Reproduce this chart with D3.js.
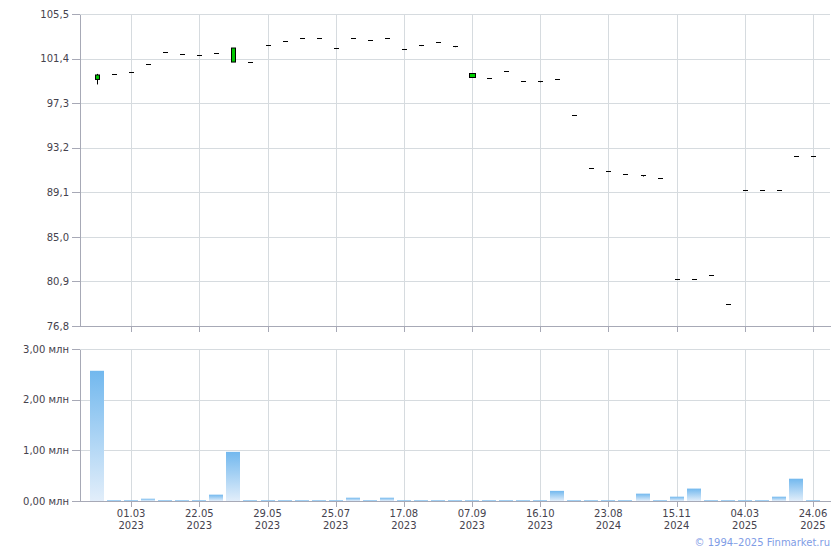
<!DOCTYPE html>
<html><head><meta charset="utf-8">
<script src="https://cdn.jsdelivr.net/npm/d3@7"></script>
<style>body{margin:0;background:#fff}svg{display:block}</style>
</head><body>
<svg id="c" width="840" height="550"></svg>
<script>
// ---- data ----
const tickLabels = [["01.03","2023"],["22.05","2023"],["29.05","2023"],["25.07","2023"],["17.08","2023"],["07.09","2023"],["16.10","2023"],["23.08","2024"],["15.11","2024"],["04.03","2025"],["24.06","2025"]];
const tickStart = 2, tickStep = 4;
const openV  = [99.48, 99.98,100.19,100.93,102.00,101.85,101.73,101.94,101.08,101.11,102.65,103.02,103.29,103.29,102.37,103.29,103.11,103.29,102.28,102.65,102.92,102.56, 99.72, 99.61,100.26, 99.34, 99.34, 99.52, 96.21, 91.33, 91.06, 90.78, 90.65, 90.41, 81.12, 81.12, 81.49, 78.82, 89.31, 89.31, 89.31, 92.44, 92.44];
const closeV = [99.89, 99.98,100.19,100.93,102.00,101.85,101.73,101.94,102.37,101.11,102.65,103.02,103.29,103.29,102.37,103.29,103.11,103.29,102.28,102.65,102.92,102.56, 99.86, 99.61,100.26, 99.34, 99.34, 99.52, 96.21, 91.33, 91.06, 90.78, 90.65, 90.41, 81.12, 81.12, 81.49, 78.82, 89.31, 89.31, 89.31, 92.44, 92.44];
const highV  = [99.99, 99.98,100.19,100.93,102.00,101.85,101.73,101.94,102.37,101.11,102.65,103.02,103.29,103.29,102.37,103.29,103.11,103.29,102.28,102.65,102.92,102.56, 99.86, 99.61,100.26, 99.34, 99.34, 99.52, 96.21, 91.33, 91.06, 90.78, 90.65, 90.41, 81.12, 81.12, 81.49, 78.82, 89.31, 89.31, 89.31, 92.44, 92.44];
const lowV   = [99.02, 99.98,100.19,100.93,102.00,101.85,101.73,101.94,101.08,101.11,102.65,103.02,103.29,103.29,102.37,103.29,103.11,103.29,102.28,102.55,102.92,102.45, 99.72, 99.61,100.26, 99.34, 99.22, 99.52, 96.21, 91.33, 91.06, 90.78, 90.55, 90.41, 81.12, 81.12, 81.49, 78.82, 89.31, 89.31, 89.31, 92.44, 92.44];
const volumeV = [2570000,15000,15000,45000,15000,15000,15000,125000,970000,15000,15000,15000,15000,15000,15000,65000,15000,65000,15000,15000,15000,15000,15000,15000,15000,15000,15000,200000,15000,15000,15000,15000,145000,15000,85000,245000,15000,15000,15000,15000,85000,440000,15000];
const priceTicks = [76.8, 80.9, 85.0, 89.1, 93.2, 97.3, 101.4, 105.5];
const volTicks = [0, 1000000, 2000000, 3000000];

// ---- layout ----
const svg = d3.select("#c");
const L = 80, R = 830;
const pTop = 14, pBot = 326, vTop = 349, vBot = 501;
const n = openV.length;
const x = d3.scaleLinear().domain([-1, n]).range([L, R]);
const y = d3.scaleLinear().domain([76.8, 105.5]).range([pBot, pTop]);
const yv = d3.scaleLinear().domain([0, 3000000]).range([vBot, vTop]);
const gridC = "#d6dbdf", axisC = "#a7a9b6", textC = "#45424d";
const font = "DejaVu Sans, Verdana, sans-serif";
const tickIdx = tickLabels.map((d, k) => tickStart + k * tickStep);
const fmt1 = v => d3.format(".1f")(v).replace(".", ",");
const fmtV = v => d3.format(".2f")(v / 1e6).replace(".", ",") + " млн";

const defs = svg.append("defs");
const grad = defs.append("linearGradient").attr("id", "vg").attr("x1", 0).attr("y1", 0).attr("x2", 0).attr("y2", 1);
grad.append("stop").attr("offset", "0%").attr("stop-color", "#72b8ee");
grad.append("stop").attr("offset", "100%").attr("stop-color", "#e2eefa");

// ---- price panel ----
const pg = svg.append("g");
pg.append("g").attr("transform", `translate(0,${pBot})`)
  .call(d3.axisBottom(x).tickValues(tickIdx).tickSize(-(pBot - pTop)).tickFormat(""))
  .call(g => { g.select(".domain").remove(); g.selectAll("line").attr("stroke", gridC).attr("shape-rendering","crispEdges"); });
pg.append("g").attr("transform", `translate(${L},0)`)
  .call(d3.axisLeft(y).tickValues(priceTicks).tickSize(-(R - L)).tickFormat(""))
  .call(g => { g.select(".domain").remove(); g.selectAll("line").attr("stroke", gridC).attr("shape-rendering","crispEdges"); });
// axes
pg.append("g").attr("transform", `translate(0,${pBot})`)
  .call(d3.axisBottom(x).tickValues(tickIdx).tickSize(6).tickSizeOuter(0).tickFormat(""))
  .call(g => { g.select(".domain").attr("stroke", axisC).attr("shape-rendering","crispEdges"); g.selectAll("line").attr("stroke", axisC).attr("shape-rendering","crispEdges"); });
pg.append("g").attr("transform", `translate(${L},0)`)
  .call(d3.axisLeft(y).tickValues(priceTicks).tickSize(8).tickSizeOuter(0).tickPadding(3).tickFormat(fmt1))
  .call(g => { g.select(".domain").attr("stroke", axisC).attr("shape-rendering","crispEdges");
    g.selectAll("line").attr("stroke", axisC).attr("shape-rendering","crispEdges");
    g.selectAll("text").attr("fill", textC).attr("font-family", font).attr("font-size", 10); });

// candles
const cg = pg.append("g");
d3.range(n).forEach(i => {
  const cx = Math.round(x(i)) + 0.5;
  if (highV[i] > Math.max(openV[i], closeV[i]) || lowV[i] < Math.min(openV[i], closeV[i])) {
    cg.append("line").attr("x1", cx).attr("x2", cx).attr("y1", y(highV[i])).attr("y2", y(lowV[i]))
      .attr("stroke", "#000").attr("stroke-width", 1);
  }
  const top = y(Math.max(openV[i], closeV[i])), bot = y(Math.min(openV[i], closeV[i]));
  const up = closeV[i] > openV[i];
  if (bot - top < 3) {
    if (up) {
      cg.append("rect").attr("x", cx - 3).attr("y", Math.round(top) - 1.5).attr("width", 6).attr("height", 4)
        .attr("fill", "#00d000").attr("stroke", "#000").attr("stroke-width", 1).attr("shape-rendering","crispEdges");
    } else {
      cg.append("rect").attr("x", cx - 2.5).attr("y", Math.round(top) - 0.5).attr("width", 5).attr("height", 1.6)
        .attr("fill", "#000").attr("shape-rendering","crispEdges");
    }
  } else {
    cg.append("rect").attr("x", cx - 2).attr("y", top).attr("width", 4).attr("height", bot - top)
      .attr("fill", up ? "#00c800" : "#fff").attr("stroke", "#000").attr("stroke-width", 1);
  }
});

// ---- volume panel ----
const vg = svg.append("g");
vg.append("g").attr("transform", `translate(0,${vBot})`)
  .call(d3.axisBottom(x).tickValues(tickIdx).tickSize(-(vBot - vTop)).tickFormat(""))
  .call(g => { g.select(".domain").remove(); g.selectAll("line").attr("stroke", gridC).attr("shape-rendering","crispEdges"); });
vg.append("g").attr("transform", `translate(${L},0)`)
  .call(d3.axisLeft(yv).tickValues(volTicks).tickSize(-(R - L)).tickFormat(""))
  .call(g => { g.select(".domain").remove(); g.selectAll("line").attr("stroke", gridC).attr("shape-rendering","crispEdges"); });

vg.append("g").selectAll("rect").data(volumeV).join("rect")
  .attr("x", (d, i) => Math.round(x(i)) - 7)
  .attr("width", 14)
  .attr("y", d => yv(d))
  .attr("height", d => Math.max(1.5, vBot - yv(d)))
  .attr("fill", "url(#vg)");

vg.append("g").attr("transform", `translate(0,${vBot})`)
  .call(d3.axisBottom(x).tickValues(tickIdx).tickSize(6).tickSizeOuter(0).tickFormat(""))
  .call(g => { g.select(".domain").attr("stroke", axisC).attr("shape-rendering","crispEdges"); g.selectAll("line").attr("stroke", axisC).attr("shape-rendering","crispEdges"); });
vg.append("g").attr("transform", `translate(${L},0)`)
  .call(d3.axisLeft(yv).tickValues(volTicks).tickSize(8).tickSizeOuter(0).tickPadding(3).tickFormat(fmtV))
  .call(g => { g.select(".domain").attr("stroke", axisC).attr("shape-rendering","crispEdges");
    g.selectAll("line").attr("stroke", axisC).attr("shape-rendering","crispEdges");
    g.selectAll("text").attr("fill", textC).attr("font-family", font).attr("font-size", 10); });

// x labels
const xl = svg.append("g").attr("font-family", font).attr("font-size", 10).attr("fill", textC).attr("text-anchor", "middle");
tickLabels.forEach((t, k) => {
  const px = x(tickIdx[k]);
  xl.append("text").attr("x", px).attr("y", 517).text(t[0]);
  xl.append("text").attr("x", px).attr("y", 529).text(t[1]);
});

svg.append("text").attr("x", 830).attr("y", 546).attr("text-anchor", "end")
  .attr("font-family", font).attr("font-size", 10).attr("fill", "#7f9de6")
  .text("© 1994–2025 Finmarket.ru");
</script>
</body></html>
